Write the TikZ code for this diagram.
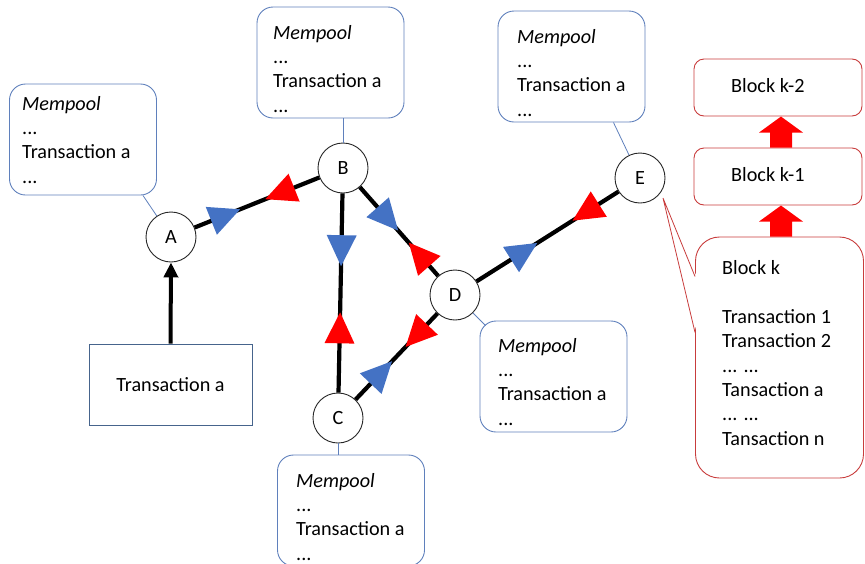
\documentclass[tikz,border=0pt]{standalone}
\usepackage{fontspec}
\setmainfont{Carlito}
\usetikzlibrary{arrows.meta,calc}

\definecolor{poolblue}{RGB}{95,128,188}
\definecolor{txblue}{RGB}{70,100,140}
\definecolor{blockred}{RGB}{200,60,60}
\definecolor{sendblue}{RGB}{68,114,196}
\definecolor{backred}{RGB}{255,0,0}

\begin{document}
\begin{tikzpicture}[x=1pt,y=-1pt,
  every node/.style={font=\fontsize{20.2}{24.3}\selectfont},
  peer/.style={circle, draw=black!85, line width=0.9pt, fill=white,
    minimum size=50pt, inner sep=0pt},
  pool/.style={rectangle, rounded corners=16pt, draw=poolblue, line width=0.9pt,
    minimum width=147pt, minimum height=111pt, inner sep=0pt},
  % multi-line texts are placed by the baseline of their last line
  pooltext/.style={anchor=base west, align=left, inner sep=0pt},
  txbox/.style={rectangle, draw=txblue, line width=0.9pt,
    minimum width=163pt, minimum height=81pt},
  block/.style={rectangle, rounded corners=10pt, draw=blockred, line width=0.9pt,
    minimum width=168pt, minimum height=57pt, inner sep=0pt},
  bigblock/.style={rectangle, rounded corners=24pt, draw=blockred, line width=0.9pt,
    minimum width=168pt, minimum height=241pt, inner sep=0pt},
  link/.style={draw=black, line width=4.2pt},
  callout/.style={draw=poolblue, line width=0.8pt},
  tailline/.style={draw=blockred, line width=0.8pt},
  onlink/.style={sloped, allow upside down},
  % triangle pointing along the path direction
  fwd/.pic={\fill[#1] (20.7,0) -- (-10.3,15) -- (-10.3,-15) -- cycle;},
  % triangle pointing against the path direction
  bwd/.pic={\fill[#1] (-20.7,0) -- (10.3,15) -- (10.3,-15) -- cycle;},
  % wide block arrow, drawn upward from its base point
  uparrow/.pic={\fill[backred] (-11,0) -- (-11,-15) -- (-22,-15) -- (0,-31)
    -- (22,-15) -- (11,-15) -- (11,0) -- cycle;}
]
\useasboundingbox (0,0) rectangle (865,563);
\clip (0,0) rectangle (865,563);

% peers
\node[peer] (A) at (171,237) {A};
\node[peer] (B) at (343,168) {B};
\node[peer] (C) at (338,418) {C};
\node[peer] (D) at (455,295) {D};
\node[peer] (E) at (640,178) {E};

% mempool boxes
\node[pool] (mpA) at (83,139.5) {};
\node[pool] (mpB) at (330.5,62.5) {};
\node[pool] (mpE) at (571.5,66.5) {};
\node[pool] (mpD) at (553.5,376.5) {};
\node[pool] (mpC) at (351,510.5) {};

\node[pooltext] (tA) at (22,183) {\textit{Mempool}\\...\\Transaction a\\...};
\node[pooltext] (tB) at (273,112) {\textit{Mempool}\\...\\Transaction a\\...};
\node[pooltext] (tE) at (517,116) {\textit{Mempool}\\...\\Transaction a\\...};
\node[pooltext] (tD) at (498,425) {\textit{Mempool}\\...\\Transaction a\\...};
\node[pooltext] (tC) at (296,560) {\textit{Mempool}\\...\\Transaction a\\...};

% callout tails
\draw[callout] ($(mpA.south east)+(-14,0)$) -- (A);
\draw[callout] ($(mpB.south)+(12.5,0)$) -- (B);
\draw[callout] ($(mpE.south east)+(-32,0)$) -- (E);
\draw[callout] (D) -- ($(mpD.north west)+(6,5)$);
\draw[callout] (C) -- (C |- mpC.north);

% new transaction
\node[txbox] (tx) at (170.5,384.5) {Transaction a};
\draw[line width=4pt, -{Triangle[length=15pt,width=14pt]}] (tx.north) -- (A.south);

% links between peers
\draw[link] (A) -- (B);
\draw[link] (B) -- (C);
\draw[link] (B) -- (D);
\draw[link] (C) -- (D);
\draw[link] (D) -- (E);

% direction marks on the links
\path (A.center) -- (B.center)
  pic[pos=0.29, onlink]{fwd=sendblue} pic[pos=0.66, onlink]{bwd=backred};
\path (B.center) -- (C.center)
  pic[pos=0.31, onlink]{fwd=sendblue} pic[pos=0.66, onlink]{bwd=backred};
\path (B.center) -- (D.center)
  pic[pos=0.37, onlink]{fwd=sendblue} pic[pos=0.71, onlink]{bwd=backred};
\path (C.center) -- (D.center)
  pic[pos=0.34, onlink]{fwd=sendblue} pic[pos=0.70, onlink]{bwd=backred};
\path (D.center) -- (E.center)
  pic[pos=0.35, onlink]{fwd=sendblue} pic[pos=0.73, onlink]{bwd=backred};

% blockchain
\node[block] (k2) at (778,87.5) {};
\node[block] (k1) at (778,176.5) {};
\node[bigblock] (bk) at (779.5,357.5) {};
\node[anchor=base west, inner sep=0pt] (k2t) at (731,92) {Block k-2};
\node[anchor=base west, inner sep=0pt] (k1t) at (731,181) {Block k-1};
\node[pooltext] (bkt) at (722,445)
  {Block k\\[24.3pt]Transaction 1\\Transaction 2\\... ...\\Tansaction a\\... ...\\Tansaction n};

\pic at ($(k1.north)+(3,0)$) {uparrow};
\pic at ($(bk.north)+(1.5,0)$) {uparrow};

% tail joining peer E to block k
\coordinate (tip) at (663,198);
\fill[white] (tip) -- ($(bk.north west)+(1.6,40)$) -- ($(bk.north west)+(1.6,96)$) -- cycle;
\draw[tailline] ($(bk.north west)+(0,40)$) -- (tip) -- ($(bk.north west)+(0,96)$);
\end{tikzpicture}
\end{document}
